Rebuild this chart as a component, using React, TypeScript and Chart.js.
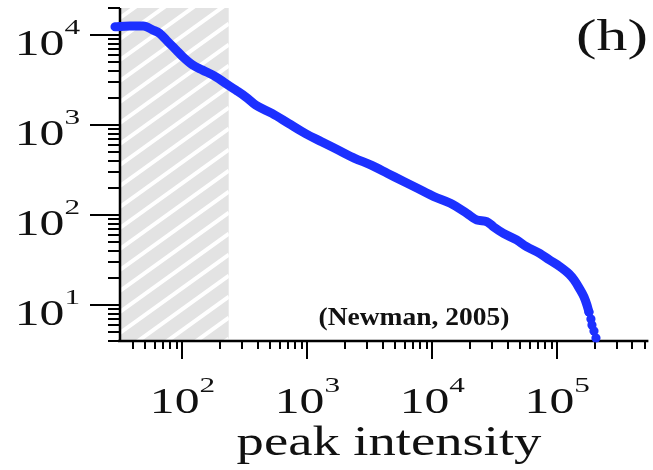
import React, { useEffect, useRef } from "react";
import { Chart, registerables } from "chart.js";

Chart.register(...registerables);

// Complementary cumulative distribution of solar flare peak intensity (Newman, 2005)
const peakIntensity = [
  28.8, 37.9, 48.4, 58.1, 65.6, 74.3, 89.1, 100.5, 120.7, 144.9, 185, 222, 267, 320,
  385, 521, 706, 959, 1298, 1762, 2392, 3239, 4395, 5961, 7598, 10310, 13960, 18950,
  22750, 27350, 30900, 37100, 47300, 56800, 72400, 86900, 103700, 124500, 136500,
  149600, 163800, 173000, 179500,
];
const countAbove = [
  12370, 12600, 12590, 11370, 10440, 8800, 6810, 5740, 4640, 4080, 3440, 2900, 2450,
  2060, 1667, 1349, 1045, 809, 652, 528, 427, 359, 290, 234, 198, 160, 135, 104, 88,
  84.3, 74, 62.6, 52.8, 44.5, 37.5, 31.6, 27.1, 22.1, 19.0, 15.5, 12.3, 10.0, 8.36,
];
const tailIntensity = [179500, 186200, 189700, 196900, 204200];
const tailCount = [8.36, 6.99, 6.0, 5.14, 4.3];

const xTickExponents = [2, 3, 4, 5];
const yTickExponents = [1, 2, 3, 4];
const xRange = [31.6, 537000];
const yRange = [3.98, 20000];
const hatchEnd = 235;

const panelLabel = "(h)";
const sourceLabel = "(Newman, 2005)";
const xAxisTitle = "peak intensity";

const BLUE = "rgb(28,48,255)";
const SERIF = '"Liberation Serif", "Times New Roman", serif';

function stretchedText(
  ctx: CanvasRenderingContext2D,
  text: string,
  x: number,
  y: number,
  font: string,
  sx: number,
  align: CanvasTextAlign
) {
  ctx.save();
  ctx.translate(x, y);
  ctx.scale(sx, 1);
  ctx.font = font;
  ctx.textAlign = align;
  ctx.textBaseline = "alphabetic";
  ctx.fillText(text, 0, 0);
  ctx.restore();
}

function measure(ctx: CanvasRenderingContext2D, text: string, font: string, sx: number) {
  ctx.save();
  ctx.font = font;
  const w = ctx.measureText(text).width * sx;
  ctx.restore();
  return w;
}

const BASE_FONT = `35px ${SERIF}`;
const SUP_FONT = `22px ${SERIF}`;
const SX = 1.42;

const figurePlugin = {
  id: "figurePlugin",
  beforeDatasetsDraw(chart: any) {
    const { ctx, chartArea } = chart;
    const xs = chart.scales.x;
    const ys = chart.scales.y;
    const { left, right, top, bottom } = chartArea;

    // hatched region
    const xEnd = xs.getPixelForValue(hatchEnd);
    ctx.save();
    ctx.beginPath();
    ctx.rect(left, top, xEnd - left, bottom - top);
    ctx.clip();
    ctx.fillStyle = "#e3e3e3";
    ctx.fillRect(left, top, xEnd - left, bottom - top);
    ctx.strokeStyle = "#ffffff";
    ctx.lineWidth = 4;
    const slope = 0.72;
    for (let y0 = top - 200; y0 < bottom + 200; y0 += 21) {
      ctx.beginPath();
      ctx.moveTo(left, y0);
      ctx.lineTo(xEnd, y0 - slope * (xEnd - left));
      ctx.stroke();
    }
    ctx.restore();

    ctx.save();
    ctx.strokeStyle = "#000";
    ctx.fillStyle = "#111";
    // axis lines
    ctx.lineWidth = 2.5;
    ctx.beginPath();
    ctx.moveTo(left, top);
    ctx.lineTo(left, bottom);
    ctx.moveTo(left - 2, bottom);
    ctx.lineTo(right, bottom);
    ctx.stroke();

    ctx.lineWidth = 2;
    // x ticks
    for (let e = 1; e <= 5; e++) {
      for (let k = 1; k <= 9; k++) {
        const v = k * Math.pow(10, e);
        if (v < xRange[0] || v > xRange[1]) continue;
        const px = Math.round(xs.getPixelForValue(v));
        const len = k === 1 ? 18 : 8;
        ctx.beginPath();
        ctx.moveTo(px, bottom);
        ctx.lineTo(px, bottom + len);
        ctx.stroke();
      }
    }
    // y ticks
    for (let e = 0; e <= 4; e++) {
      for (let k = 1; k <= 9; k++) {
        const v = k * Math.pow(10, e);
        if (v < yRange[0] || v > yRange[1] * 1.001) continue;
        const py = Math.round(ys.getPixelForValue(v));
        const len = k === 1 ? 30 : 12;
        ctx.beginPath();
        ctx.moveTo(left, py);
        ctx.lineTo(left - len, py);
        ctx.stroke();
      }
    }

    // y labels
    yTickExponents.forEach((e) => {
      const py = ys.getPixelForValue(Math.pow(10, e));
      const sup = String(e);
      const supW = measure(ctx, sup, SUP_FONT, SX);
      const baseW = measure(ctx, "10", BASE_FONT, SX);
      const rightEdge = 80;
      stretchedText(ctx, "10", rightEdge - supW - baseW, py + 20, BASE_FONT, SX, "left");
      stretchedText(ctx, sup, rightEdge - supW, py - 1, SUP_FONT, SX, "left");
    });
    // x labels
    xTickExponents.forEach((e) => {
      const px = xs.getPixelForValue(Math.pow(10, e));
      const sup = String(e);
      const supW = measure(ctx, sup, SUP_FONT, SX);
      const baseW = measure(ctx, "10", BASE_FONT, SX);
      const start = px - (supW + baseW) / 2;
      stretchedText(ctx, "10", start, bottom + 72, BASE_FONT, SX, "left");
      stretchedText(ctx, sup, start + baseW, bottom + 51, SUP_FONT, SX, "left");
    });

    // titles and annotations
    stretchedText(ctx, xAxisTitle, 389, 455, `42px ${SERIF}`, 1.3, "center");
    stretchedText(ctx, panelLabel, 612, 50, `44px ${SERIF}`, 1.4, "center");
    stretchedText(ctx, sourceLabel, 414, 325, `bold 25px ${SERIF}`, 1.1, "center");
    ctx.restore();
  },
};

export default function App() {
  const canvasRef = useRef<HTMLCanvasElement | null>(null);

  useEffect(() => {
    document.body.style.margin = "0";
    const canvas = canvasRef.current;
    if (!canvas) return;
    const body = peakIntensity.map((x, i) => ({ x, y: countAbove[i] }));
    const tail = tailIntensity.map((x, i) => ({ x, y: tailCount[i] }));
    const chart = new Chart(canvas, {
      type: "scatter",
      data: {
        datasets: [
          {
            data: body,
            showLine: true,
            borderColor: BLUE,
            borderWidth: 9,
            borderCapStyle: "round",
            borderJoinStyle: "round",
            cubicInterpolationMode: "monotone",
            pointRadius: 0,
            clip: false,
          } as any,
          {
            data: tail,
            showLine: false,
            backgroundColor: BLUE,
            borderWidth: 0,
            pointRadius: 4.6,
            clip: false,
          } as any,
        ],
      },
      options: {
        animation: false,
        responsive: false,
        devicePixelRatio: 1,
        layout: { padding: { left: 120, right: 0, top: 8, bottom: 129 } },
        plugins: { legend: { display: false }, tooltip: { enabled: false } },
        events: [],
        scales: {
          x: { type: "logarithmic", min: xRange[0], max: xRange[1], display: false },
          y: { type: "logarithmic", min: yRange[0], max: yRange[1], display: false },
        },
      },
      plugins: [figurePlugin],
    });
    return () => chart.destroy();
  }, []);

  return (
    <div style={{ position: "fixed", left: 0, top: 0, width: 653, height: 470, background: "#fff" }}>
      <canvas ref={canvasRef} width={653} height={470} />
    </div>
  );
}
